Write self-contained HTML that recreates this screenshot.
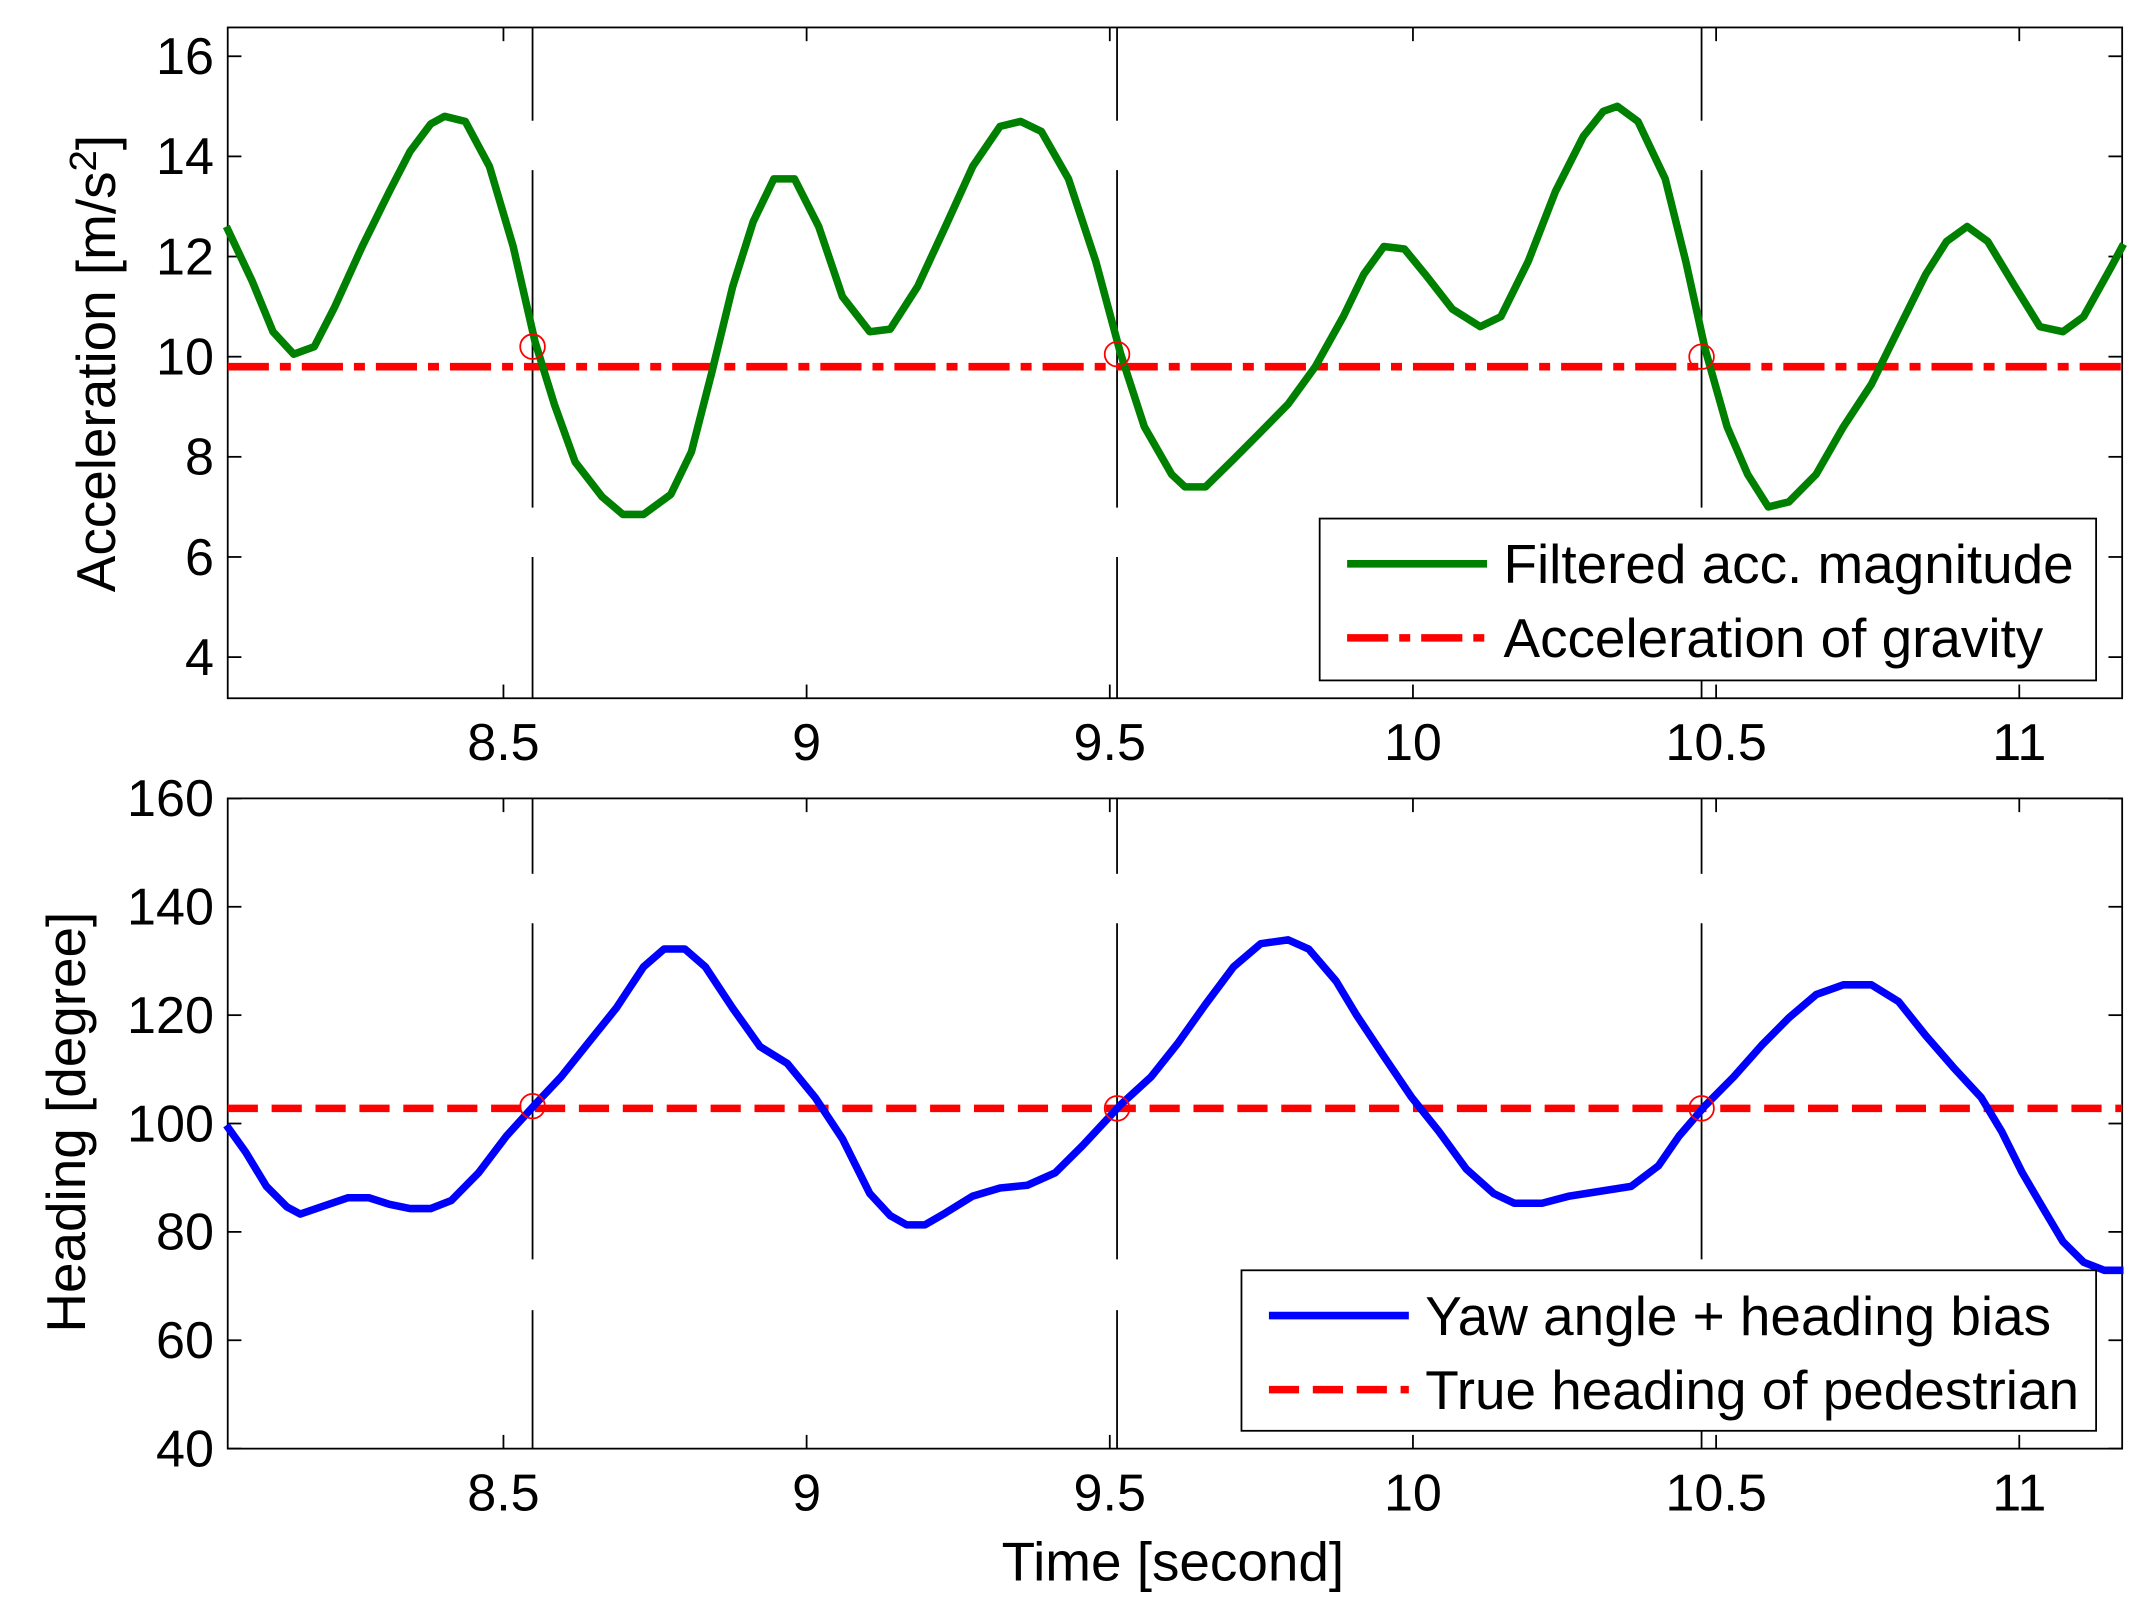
<!DOCTYPE html>
<html><head><meta charset="utf-8"><style>
html,body{margin:0;padding:0;background:#fff}
svg{display:block}
text{font-family:"Liberation Sans",Arial,sans-serif;fill:#000}
</style></head><body>
<svg id="chart" width="2140" height="1599" viewBox="0 0 1560 1165.6" xmlns="http://www.w3.org/2000/svg"></svg>
<script>
const accTimes=[8.043,8.086,8.120,8.154,8.188,8.222,8.267,8.312,8.346,8.380,8.403,8.437,8.477,8.516,8.552,8.584,8.618,8.663,8.697,8.731,8.776,8.810,8.844,8.878,8.912,8.946,8.980,9.020,9.059,9.104,9.138,9.183,9.229,9.274,9.319,9.353,9.387,9.432,9.477,9.518,9.557,9.602,9.624,9.658,9.704,9.749,9.794,9.839,9.885,9.919,9.952,9.986,10.020,10.065,10.111,10.145,10.190,10.235,10.281,10.314,10.337,10.371,10.416,10.450,10.482,10.518,10.552,10.586,10.620,10.665,10.710,10.756,10.801,10.846,10.880,10.914,10.948,10.993,11.034,11.072,11.106,11.152,11.172];
const accValues=[12.6,11.5,10.5,10.05,10.2,11,12.2,13.3,14.1,14.65,14.8,14.7,13.8,12.2,10.3,9.05,7.9,7.2,6.85,6.85,7.25,8.1,9.7,11.4,12.7,13.55,13.55,12.6,11.2,10.5,10.55,11.4,12.6,13.8,14.6,14.7,14.5,13.55,11.9,10.05,8.6,7.65,7.4,7.4,7.95,8.5,9.05,9.8,10.8,11.65,12.2,12.15,11.65,10.95,10.6,10.8,11.9,13.3,14.4,14.9,15,14.7,13.55,11.9,10.15,8.6,7.65,7.0,7.1,7.65,8.6,9.45,10.55,11.65,12.3,12.6,12.3,11.4,10.6,10.5,10.8,11.8,12.25];
const headTimes=[8.043,8.075,8.109,8.143,8.165,8.199,8.244,8.278,8.312,8.346,8.380,8.414,8.459,8.505,8.552,8.595,8.640,8.686,8.731,8.765,8.799,8.833,8.878,8.923,8.968,9.014,9.059,9.104,9.138,9.165,9.195,9.229,9.274,9.319,9.364,9.410,9.455,9.518,9.568,9.613,9.658,9.704,9.749,9.794,9.828,9.873,9.907,9.952,9.998,10.043,10.088,10.133,10.167,10.213,10.258,10.314,10.360,10.405,10.439,10.482,10.529,10.575,10.620,10.665,10.710,10.756,10.801,10.846,10.891,10.937,10.971,11.005,11.038,11.072,11.106,11.140,11.172];
const headValues=[99.7,94.7,88.4,84.6,83.3,84.6,86.3,86.3,85.1,84.3,84.3,85.8,90.9,97.7,103.5,108.6,114.9,121.3,128.9,132.2,132.2,128.9,121.3,114.2,111.1,104.8,97.2,87.1,83,81.3,81.3,83.5,86.6,88.1,88.6,90.9,95.9,103.5,108.6,114.9,122,128.9,133.2,133.9,132.2,126.3,120,112.4,104.8,98.5,91.6,87.1,85.3,85.3,86.6,87.6,88.4,92.2,97.7,103.3,108.6,114.4,119.5,123.8,125.6,125.6,122.5,116.2,110.4,104.8,98.5,90.9,84.6,78.2,74.4,72.9,72.9];
const gravity=9.8;
const trueHeading=102.8;
const stepTimes=[8.548,9.512,10.476];
const accAtSteps=[10.2,10.05,10.0];
const headAtSteps=[103.2,102.8,102.8];
const xTicks=[8.5,9,9.5,10,10.5,11];
const xTickLabels=["8.5","9","9.5","10","10.5","11"];
const accTicks=[4,6,8,10,12,14,16];
const headTicks=[40,60,80,100,120,140,160];

const NS="http://www.w3.org/2000/svg";
const svg=document.getElementById('chart');
function mk(tag,attrs,parent){const e=document.createElementNS(NS,tag);for(const k in attrs)e.setAttribute(k,attrs[k]);(parent||svg).appendChild(e);return e;}
const L=166,R=1547;
const xS=t=>588+(t-9)*442;
const yA=v=>41+(16-v)*36.5;
const yH=v=>582+(160-v)*3.95;

function panel(name,top,bottom,ticks,yS,times,vals,color,refVal,refDash,atSteps,gaps,legend){
  const g=mk('g',{});
  
  
  const fr=mk('rect',{x:L,y:top,width:R-L,height:bottom-top,fill:'none',stroke:'#000','stroke-width':1.3},g);
  
  
  xTicks.forEach((t,i)=>{
    const x=xS(t);
    mk('line',{x1:x,y1:bottom,x2:x,y2:bottom-10,stroke:'#000','stroke-width':1.3},g);
    mk('line',{x1:x,y1:top,x2:x,y2:top+10,stroke:'#000','stroke-width':1.3},g);
    const tx=mk('text',{x:x,y:bottom+45,'font-size':38,'text-anchor':'middle'},g);
    tx.textContent=xTickLabels[i];
    
    
  });
  ticks.forEach(v=>{
    const y=yS(v);
    mk('line',{x1:L,y1:y,x2:L+10,y2:y,stroke:'#000','stroke-width':1.3},g);
    mk('line',{x1:R,y1:y,x2:R-10,y2:y,stroke:'#000','stroke-width':1.3},g);
    const tx=mk('text',{x:L-10,y:y+13,'font-size':38,'text-anchor':'end'},g);
    tx.textContent=String(v);
    
    
  });
  stepTimes.forEach(t=>{
    const x=xS(t);
    gaps.forEach(s=>{
      const ln=mk('line',{x1:x,y1:s[0],x2:x,y2:s[1],stroke:'#000','stroke-width':1.3},g);
      
      
    });
  });
  const ry=yS(refVal);
  const rl=mk('line',{x1:L,y1:ry,x2:R,y2:ry,stroke:'#f00','stroke-width':5.5,'stroke-dasharray':refDash},g);
  
  
  const d=times.map((t,i)=>(i?'L':'M')+xS(t).toFixed(1)+','+yS(vals[i]).toFixed(1)).join('');
  const p=mk('path',{d:d,fill:'none',stroke:color,'stroke-width':5.5,'stroke-linejoin':'round'},g);
  
  
  stepTimes.forEach((t,i)=>{
    const c=mk('circle',{cx:xS(t),cy:yS(atSteps[i]),r:9,fill:'none',stroke:'#f00','stroke-width':1.3},g);
    
    
  });
  const lg=mk('g',{},g);
  
  
  mk('rect',{x:legend.x,y:legend.y,width:legend.w,height:legend.h,fill:'#fff',stroke:'#000','stroke-width':1.3},lg);
  legend.items.forEach((it,i)=>{
    const cy=legend.y+33+i*54;
    const ll=mk('line',{x1:legend.x+20,y1:cy,x2:legend.x+122,y2:cy,stroke:it.c,'stroke-width':5.5,'stroke-dasharray':it.dash||'none'},lg);
    
    
    const tx=mk('text',{x:legend.x+134,y:cy+14,'font-size':40},lg);
    tx.textContent=it.t;
    
    
  });
}
panel('acceleration-panel',20,509,accTicks,yA,accTimes,accValues,'#008000',gravity,'30 8 8 8',accAtSteps,
  [[20,88],[124,370],[406,509]],
  {x:962,y:378,w:566,h:118,items:[{t:'Filtered acc. magnitude',c:'#008000'},{t:'Acceleration of gravity',c:'#f00',dash:'30 8 8 8'}]});
panel('heading-panel',582,1056,headTicks,yH,headTimes,headValues,'#0000ff',trueHeading,'22 10',headAtSteps,
  [[582,637],[673,918],[955,1056]],
  {x:905,y:926,w:623,h:117,items:[{t:'Yaw angle + heading bias',c:'#0000ff'},{t:'True heading of pedestrian',c:'#f00',dash:'22 10'}]});

const t1=mk('text',{x:0,y:0,'font-size':40,'text-anchor':'middle',transform:'translate(84,265) rotate(-90)'});
t1.innerHTML='Acceleration [m/s<tspan dy="-14" font-size="28">2</tspan><tspan dy="14">]</tspan>';


const t2=mk('text',{x:0,y:0,'font-size':40,'text-anchor':'middle',transform:'translate(62,818) rotate(-90)'});
t2.textContent='Heading [degree]';


const t3=mk('text',{x:855,y:1152,'font-size':40,'text-anchor':'middle'});
t3.textContent='Time [second]';


</script>
</body></html>
